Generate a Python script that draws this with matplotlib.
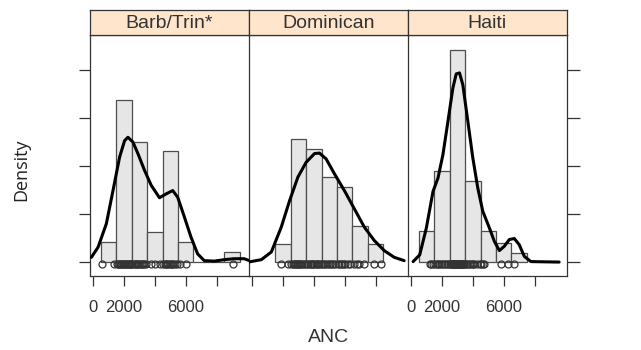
import matplotlib
matplotlib.use("Agg")
from matplotlib import pyplot as plt

# densities are in units of 1e-4 (the axis has no labels, ticks at 0..4)
groups = ["Barb/Trin*", "Dominican", "Haiti"]
bin_width = 1000

# histogram bars: left edge of each bin and its density
barb_bins = [500, 1500, 2500, 3500, 4500, 5500, 6500, 7500, 8500]
barb_hist = [0.42, 3.37, 2.50, 0.63, 2.31, 0.42, 0.0, 0.0, 0.20]
dom_bins = [1500, 2500, 3500, 4500, 5500, 6500, 7500]
dom_hist = [0.38, 2.57, 2.36, 1.77, 1.56, 0.76, 0.38]
hai_bins = [500, 1500, 2500, 3500, 4500, 5500, 6500]
hai_hist = [0.64, 1.89, 4.42, 1.69, 0.64, 0.40, 0.19]

# kernel density curves
barb_kx = [-108, 322, 860, 1290, 1720, 2042, 2258, 2580, 2903, 3333, 3763, 4300,
           4730, 5160, 5483, 5913, 6343, 6773, 7203, 7848, 8493, 9138, 9783, 10213]
barb_ky = [0.10, 0.31, 0.80, 1.49, 2.19, 2.53, 2.60, 2.50, 2.26, 1.91, 1.60, 1.34,
           1.42, 1.49, 1.35, 0.94, 0.52, 0.17, 0.03, 0.02, 0.05, 0.07, 0.07, 0.02]
dom_kx = [-258, 600, 1247, 1892, 2430, 2967, 3505, 4043, 4365, 4795, 5333, 5978,
          6623, 7268, 7913, 8558, 9203, 9848]
dom_ky = [0.0, 0.05, 0.21, 0.73, 1.28, 1.77, 2.08, 2.26, 2.27, 2.15, 1.84, 1.49,
          1.11, 0.73, 0.45, 0.24, 0.10, 0.03]
hai_kx = [129, 559, 989, 1419, 1742, 2064, 2387, 2709, 2924, 3139, 3354, 3677,
          3999, 4322, 4644, 5074, 5397, 5719, 6042, 6364, 6687, 7009, 7332, 7762, 9590]
hai_ky = [0.01, 0.15, 0.71, 1.47, 1.75, 2.24, 2.93, 3.63, 3.92, 3.94, 3.69, 2.93,
          2.17, 1.54, 1.06, 0.71, 0.43, 0.24, 0.33, 0.47, 0.49, 0.36, 0.12, 0.01, 0.0]

# raw ANC values shown as the rug of circles
barb_obs = [600, 1350, 1550, 1620, 1700, 1760, 1830, 1900, 1960, 2020, 2080, 2150,
            2210, 2270, 2330, 2390, 2440, 2480, 2550, 2620, 2700, 2780, 2850, 2930,
            3000, 3080, 3160, 3250, 3330, 3420, 3750, 3980, 4350, 4560, 4640, 4720,
            4800, 4880, 4950, 5020, 5110, 5200, 5300, 5420, 5600, 6000, 9050]
dom_obs = [1890, 2350, 2550, 2620, 2690, 2760, 2830, 2900, 2970, 3040, 3110, 3180,
           3260, 3340, 3430, 3560, 3640, 3720, 3800, 3870, 3950, 4030, 4110, 4190,
           4270, 4350, 4440, 4560, 4650, 4750, 4850, 4950, 5050, 5150, 5260, 5380,
           5560, 5650, 5740, 5830, 5940, 6050, 6190, 6350, 6620, 6800, 6950, 7270,
           7900, 8340]
hai_obs = [1200, 1300, 1420, 1550, 1650, 1740, 1830, 1920, 2010, 2100, 2200, 2300,
           2420, 2530, 2570, 2610, 2650, 2690, 2730, 2770, 2810, 2850, 2890, 2930,
           2970, 3010, 3050, 3090, 3130, 3170, 3210, 3250, 3300, 3350, 3400, 3460,
           3560, 3650, 3740, 3830, 3920, 4000, 4100, 4300, 4450, 4550, 4640, 4700,
           5830, 6250, 6690]

x_ticks = [0, 2000, 4000, 6000, 8000]
x_ticklabels = ["0", "2000", "", "6000", ""]
y_ticks = [0, 1, 2, 3, 4]

panels = [
    (barb_bins, barb_hist, barb_kx, barb_ky, barb_obs),
    (dom_bins, dom_hist, dom_kx, dom_ky, dom_obs),
    (hai_bins, hai_hist, hai_kx, hai_ky, hai_obs),
]

W, H = 641, 350
fig = plt.figure(figsize=(W / 100, H / 100), dpi=100)
plt.rcParams['font.family'] = ['Liberation Sans', 'DejaVu Sans']

lefts = [90, 249, 408]
pw = 159
top, bottom, strip_top = 35, 276, 10
edge = '#333333'

for i, (bins, hist, kx, ky, obs) in enumerate(panels):
    l = lefts[i]
    ax = fig.add_axes([l / W, 1 - bottom / H, pw / W, (bottom - top) / H])
    ax.patch.set_visible(False)
    ax.bar(bins, hist, width=bin_width, align='edge', color='#e6e6e6',
           edgecolor='#4d4d4d', linewidth=0.9, zorder=1)
    ax.plot(kx, ky, color='black', linewidth=2.2, zorder=3,
            solid_capstyle='round', solid_joinstyle='round')
    ax.plot(obs, [-0.03] * len(obs), linestyle='none', marker='o', markersize=5,
            markerfacecolor='none', markeredgecolor='#333333', markeredgewidth=0.9,
            zorder=4)
    ax.set_xlim(-200, 10100)
    ax.set_ylim(-0.29, 4.73)
    for s in ax.spines.values():
        s.set_color(edge)
        s.set_linewidth(0.9)
    if i > 0:
        ax.spines['left'].set_visible(False)

    ax.set_xticks(x_ticks)
    if i == 1:
        ax.set_xticklabels([""] * len(x_ticks))
    else:
        ax.set_xticklabels(x_ticklabels)
    ax.tick_params(axis='x', direction='out', length=7, width=0.9, color=edge,
                   pad=10, labelsize=12, labelcolor='#333333')

    ax.set_yticks(y_ticks)
    ax.set_yticklabels([])
    if i == 0:
        ax.tick_params(axis='y', direction='out', length=8, width=0.9, color=edge,
                       left=True, right=False)
    elif i == 2:
        ax.tick_params(axis='y', direction='out', length=9, width=0.9, color=edge,
                       left=False, right=True)
    else:
        ax.tick_params(axis='y', left=False, right=False)

    sax = fig.add_axes([l / W, 1 - top / H, pw / W, (top - strip_top) / H])
    sax.set_facecolor('#ffe5cc')
    sax.set_xticks([])
    sax.set_yticks([])
    for s in sax.spines.values():
        s.set_color(edge)
        s.set_linewidth(0.9)
    sax.text(0.5, 0.45, groups[i], transform=sax.transAxes, ha='center',
             va='center', fontsize=14, color='#333333')

fig.text(329 / W, 1 - 338 / H, "ANC", ha='center', va='center', fontsize=14,
         color='#333333')
fig.text(21 / W, 1 - 170 / H, "Density", rotation=90, ha='center', va='center',
         fontsize=13, family=['Open Sans', 'DejaVu Sans'], color='#222222')

fig.savefig("out.png", dpi=100, facecolor='white')
